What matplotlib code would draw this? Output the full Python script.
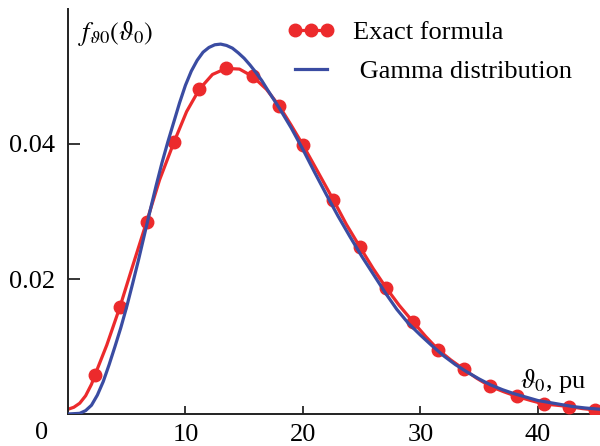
import matplotlib.pyplot as plt
from matplotlib.lines import Line2D

plt.rcParams['font.family'] = ['Liberation Serif', 'DejaVu Serif']
plt.rcParams['mathtext.fontset'] = 'stix'

# exact formula: markers
exact_x = [2.30, 4.43, 6.70, 9.03, 11.18, 13.46, 15.73, 18.0, 19.99, 22.6,
           24.87, 27.09, 29.36, 31.54, 33.73, 35.95, 38.22, 40.49, 42.70, 44.89]
exact_y = [0.0058, 0.0159, 0.0285, 0.0403, 0.0481, 0.0512, 0.0500, 0.0456, 0.0399, 0.0317,
           0.0247, 0.0187, 0.0137, 0.0095, 0.0066, 0.0041, 0.0026, 0.0015, 0.0011, 0.0006]

# exact formula: the drawn curve
exact_line_x = [0, 0.5, 1.0, 1.5, 2.0, 2.3, 3.3, 4.43, 5.5, 6.7, 7.8, 9.03, 10.1, 11.18, 12.3,
                13.46, 14.6, 15.73, 16.9, 18.0, 19.0, 19.99, 21.3, 22.6, 23.7, 24.87,
                26.0, 27.09, 28.2, 29.36, 30.45, 31.54, 32.6, 33.73, 34.8, 35.95, 37.1,
                38.22, 39.4, 40.49, 41.6, 42.70, 43.8, 44.89, 45.3]
exact_line_y = [0.0007, 0.0010, 0.0016, 0.0027, 0.0044, 0.0058, 0.0102, 0.0159, 0.0219, 0.0285,
                0.0347, 0.0403, 0.0448, 0.0481, 0.0503, 0.0512, 0.0511, 0.0500, 0.0481,
                0.0456, 0.0428, 0.0399, 0.0358, 0.0317, 0.0281, 0.0247, 0.0215, 0.0187,
                0.0161, 0.0137, 0.0115, 0.0095, 0.0080, 0.0066, 0.0053, 0.0041, 0.0033,
                0.0026, 0.0020, 0.0015, 0.0013, 0.0011, 0.0008, 0.0006, 0.0006]

# gamma distribution curve
gamma_x = [0, 1.0, 1.5, 2.0, 2.5, 3.0, 3.5, 4.0, 4.5, 5.0, 5.5, 6.0, 6.5, 7.0, 7.5, 8.0,
           8.5, 9.0, 9.5, 10.0, 10.5, 11.0, 11.5, 12.0, 12.5, 13.0, 13.5, 14.0, 14.5,
           15.0, 15.5, 16.0, 16.5, 17.0, 18.0, 19.0, 20.0, 21.0, 22.0, 23.0, 24.0, 25.0,
           26.0, 27.0, 28.0, 29.0, 30.0, 31.0, 32.0, 33.0, 34.0, 35.0, 36.0, 37.0, 38.0,
           39.0, 40.0, 41.0, 42.0, 43.0, 44.0, 45.3]
gamma_y = [0.0, 0.0001, 0.0005, 0.0013, 0.0028, 0.0048, 0.0073, 0.0100, 0.0128, 0.0159,
           0.0193, 0.0228, 0.0265, 0.0302, 0.0338, 0.0372, 0.0403, 0.0432, 0.0461, 0.0487,
           0.0508, 0.0524, 0.0536, 0.0543, 0.0547, 0.0548, 0.0546, 0.0542, 0.0535, 0.0527,
           0.0517, 0.0506, 0.0494, 0.0480, 0.0453, 0.0424, 0.0392, 0.0358, 0.0325, 0.0293,
           0.0263, 0.0234, 0.0207, 0.0180, 0.0155, 0.0134, 0.0117, 0.0101, 0.0086, 0.0073,
           0.0062, 0.0052, 0.0043, 0.0036, 0.0030, 0.0025, 0.0020, 0.0017, 0.0014, 0.0011,
           0.0009, 0.0007]

xticks = [10, 20, 30, 40]
yticks = [0.02, 0.04]

red = '#ec2a2c'
blue = '#3a4ca2'

fig = plt.figure(figsize=(6, 4.46), dpi=100)
ax = fig.add_axes([68 / 600, 32 / 446, 532 / 600, 405 / 446])

ax.plot(exact_line_x, exact_line_y, color=red, lw=2.3, zorder=2)
ax.plot(exact_x, exact_y, 'o', color=red, ms=9, zorder=3)
ax.plot(gamma_x, gamma_y, color=blue, lw=2.3, zorder=4)

ax.set_xlim(0, 45.3)
ax.set_ylim(0, 0.06)
ax.set_xticks(xticks)
ax.set_xticklabels([str(v) for v in xticks])
ax.set_yticks(yticks)
ax.set_yticklabels(['%.2f' % v for v in yticks])
ax.spines['top'].set_visible(False)
ax.spines['right'].set_visible(False)
for s in ['left', 'bottom']:
    ax.spines[s].set_linewidth(1.4)
    ax.spines[s].set_color('#222222')
ax.tick_params(axis='x', direction='in', length=5.5, width=1.1, labelsize=19, pad=7.5)
ax.tick_params(axis='y', direction='in', length=8.5, width=1.1, labelsize=19, pad=9)

fig.text(42 / 600, 1 - 433 / 446, '0', fontsize=19, ha='center', va='center')
ax.text(0.018, 0.94, r'$f_{\vartheta 0}(\vartheta_0)$', transform=ax.transAxes,
        fontsize=19, ha='left', va='center')
ax.text(38.5, 0.0049, r'$\vartheta_0$, pu', fontsize=19, ha='left', va='center')

handles = [Line2D([], [], color=red, lw=2.3, marker='o', ms=9),
           Line2D([], [], color=blue, lw=2.3)]
fig.legend(handles, ['Exact formula', ' Gamma distribution'], loc='upper left',
           bbox_to_anchor=(287 / 600, 1 - 21 / 446), frameon=False, fontsize=19,
           numpoints=3, handlelength=1.8, handletextpad=0.7, labelspacing=0.58,
           borderpad=0, borderaxespad=0)

fig.savefig('out.png', dpi=100)
